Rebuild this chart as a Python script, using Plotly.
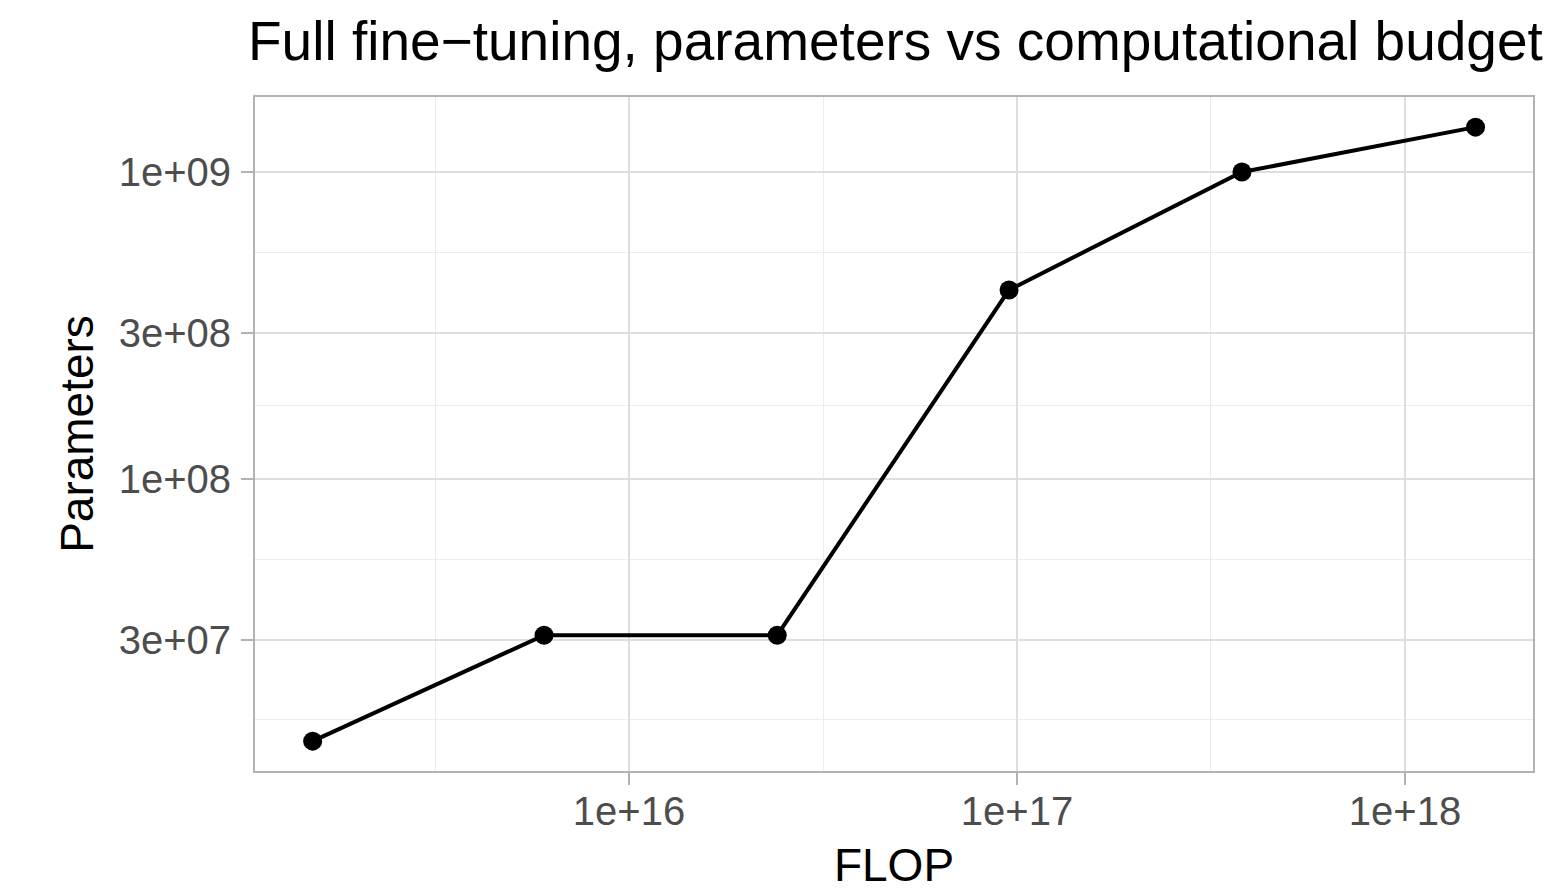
import plotly.graph_objects as go

flop = [1.53e15, 6.04e15, 2.41e16, 9.54e16, 3.80e17, 1.52e18]
params = [1.40e7, 3.10e7, 3.10e7, 4.13e8, 1.00e9, 1.40e9]

x_major = [1e16, 1e17, 1e18]
x_major_text = ["1e+16", "1e+17", "1e+18"]
x_minor = [10**15.5, 10**16.5, 10**17.5]
y_major = [3e7, 1e8, 3e8, 1e9]
y_major_text = ["3e+07", "1e+08", "3e+08", "1e+09"]
y_minor = [10**7.216, 10**7.739, 10**8.239, 10**8.739]

title_text = "Full fine\u2212tuning, parameters vs computational budget"
FONT = "Liberation Sans, Arial, Helvetica, sans-serif"

# page body has an 8px default margin; compensate so the plot lands where the reference has it
W, H = 1557 - 8, 894 - 8

fig = go.Figure()
fig.add_trace(go.Scatter(
    x=flop, y=params, mode="lines+markers",
    line=dict(color="black", width=4),
    marker=dict(color="black", size=19),
    showlegend=False, hoverinfo="x+y",
))

grid_major = "#dedede"
grid_minor = "#ececec"
border = "#b3b3b3"

fig.update_layout(
    width=W, height=H,
    margin=dict(l=247, r=24, t=89, b=123),
    paper_bgcolor="white", plot_bgcolor="white",
    font=dict(family=FONT, color="black"),
    title=dict(text=title_text, x=240 / W, xref="container", xanchor="left",
               y=1 - 13 / H, yref="container", yanchor="top",
               font=dict(size=55, color="black", family=FONT)),
)
fig.update_xaxes(
    type="log", range=[15.036, 18.330],
    tickvals=x_major, ticktext=x_major_text,
    tickfont=dict(size=40, color="#4d4d4d"),
    ticks="outside", ticklen=12, tickwidth=1.8, tickcolor=border,
    ticklabelstandoff=-8,
    showgrid=True, gridcolor=grid_major, gridwidth=1.5,
    minor=dict(tickvals=x_minor, showgrid=True, gridcolor=grid_minor, gridwidth=1, ticks=""),
    showline=True, linecolor=border, linewidth=1.8, mirror=True,
    zeroline=False,
    title=dict(text="FLOP", font=dict(size=46, color="black"), standoff=17),
)
fig.update_yaxes(
    type="log", range=[7.0489, 9.2443],
    tickvals=y_major, ticktext=y_major_text,
    tickfont=dict(size=40, color="#4d4d4d"),
    ticks="outside", ticklen=12, tickwidth=1.8, tickcolor=border,
    ticklabelstandoff=2,
    showgrid=True, gridcolor=grid_major, gridwidth=1.5,
    minor=dict(tickvals=y_minor, showgrid=True, gridcolor=grid_minor, gridwidth=1, ticks=""),
    showline=True, linecolor=border, linewidth=1.8, mirror=True,
    zeroline=False,
    title=dict(text="Parameters", font=dict(size=46, color="black"), standoff=11),
)

fig.write_html("out.html")
